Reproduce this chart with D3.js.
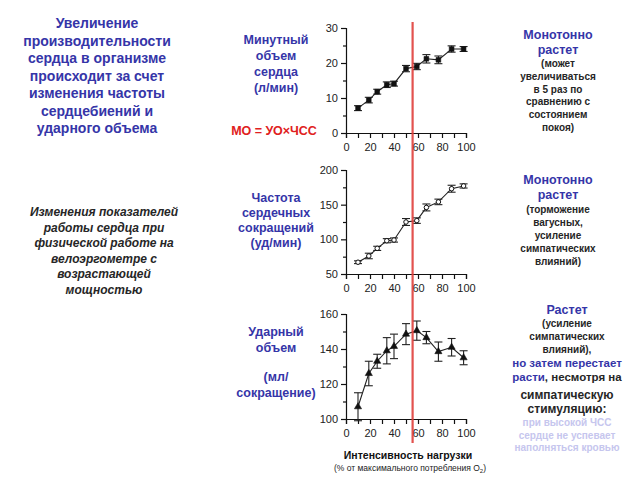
<!DOCTYPE html>
<html>
<head>
<meta charset="utf-8">
<script src="https://cdn.jsdelivr.net/npm/d3@7"></script>
<style>
  body { margin: 0; background: #fff; }
  svg { display: block; font-family: "Liberation Sans", Arial, sans-serif; }
  .axis path, .axis line { stroke: #111; stroke-width: 1.2; }
  .axis text { font-size: 11px; fill: #222; }
</style>
</head>
<body>
<svg id="chart" width="640" height="480"></svg>
<script>
// load intensity, % of max O2 uptake
const loadX = [10, 19, 26, 34, 40, 50, 59, 67, 77, 88, 98];

// minute volume, l/min
const moValues = [7.1, 9.4, 11.8, 13.8, 14.1, 18.4, 19.0, 21.2, 20.9, 24.0, 24.0];
const moErr    = [0.7, 0.8, 0.7, 0.8, 0.7, 0.9, 0.9, 1.2, 1.1, 0.9, 0.7];

// heart rate, beats/min
const hrValues = [67, 76, 87, 98, 99, 125, 127, 146, 154, 173, 177];
const hrErr    = [2, 4, 3, 3, 3, 5, 4, 5, 4, 5, 3];

// stroke volume, ml/beat
const svValues = [107, 126, 133, 139, 141.5, 148.5, 150.5, 146.5, 138.5, 141, 135];
const svErr    = [8, 7, 4, 7.5, 7, 6, 5.5, 3.5, 5.5, 5, 4];

const xTicks = [0, 10, 20, 30, 40, 50, 60, 70, 80, 90, 100];
const xLabels = [0, 20, 40, 60, 80, 100];
const moTicks = [0, 5, 10, 15, 20, 25, 30];
const hrTicks = [50, 75, 100, 125, 150, 175, 200];
const svTicks = [100, 110, 120, 130, 140, 150, 160];
const redLineX = 55.5;

const svg = d3.select('#chart');
const x = d3.scaleLinear().domain([0, 100]).range([346, 466]);

function panel(opts) {
  const { values, err, ticks, labelEvery, domain, top, bottom, marker } = opts;
  const y = d3.scaleLinear().domain(domain).range([bottom, top]);
  const g = svg.append('g');

  // x axis
  g.append('g').attr('class', 'axis')
    .attr('transform', `translate(0,${bottom})`)
    .call(d3.axisBottom(x).tickValues(xTicks).tickSizeOuter(0).tickSize(5)
      .tickFormat(d => xLabels.includes(d) ? d : ''))
    .call(a => a.selectAll('text').attr('dy', '0.9em'));

  // y axis
  g.append('g').attr('class', 'axis')
    .attr('transform', `translate(${x(0)},0)`)
    .call(d3.axisLeft(y).tickValues(ticks).tickSizeOuter(0).tickSize(5)
      .tickFormat((d, i) => i % 2 === 0 ? d : ''))
    .call(a => a.selectAll('.tick').filter((d, i) => i % 2 === 1)
      .select('line').attr('x2', -3));

  // connecting line
  g.append('path')
    .datum(values)
    .attr('fill', 'none').attr('stroke', '#222').attr('stroke-width', 1.1)
    .attr('d', d3.line().x((d, i) => x(loadX[i])).y(d => y(d)));

  // error bars
  const eb = g.selectAll('.eb').data(values).join('g')
    .attr('stroke', '#222').attr('stroke-width', 1.1);
  eb.append('line')
    .attr('x1', (d, i) => x(loadX[i])).attr('x2', (d, i) => x(loadX[i]))
    .attr('y1', (d, i) => y(d - err[i])).attr('y2', (d, i) => y(d + err[i]));
  [-1, 1].forEach(s => {
    eb.append('line')
      .attr('x1', (d, i) => x(loadX[i]) - 4).attr('x2', (d, i) => x(loadX[i]) + 4)
      .attr('y1', (d, i) => y(d + s * err[i])).attr('y2', (d, i) => y(d + s * err[i]));
  });

  // markers
  const sym = marker === 'square' ? d3.symbolSquare
    : marker === 'triangle' ? d3.symbolTriangle : d3.symbolCircle;
  const size = marker === 'circle' ? 16 : 22;
  g.selectAll('.pt').data(values).join('path')
    .attr('transform', (d, i) => `translate(${x(loadX[i])},${y(d)})`)
    .attr('d', d3.symbol(sym, size))
    .attr('fill', marker === 'circle' ? '#fff' : '#111')
    .attr('stroke', '#111').attr('stroke-width', marker === 'circle' ? 1 : 0.6);
}

panel({ values: moValues.map((v, i) => v), err: moErr, ticks: moTicks,
  domain: [0, 30], top: 28, bottom: 133, marker: 'square' });
panel({ values: hrValues, err: hrErr, ticks: hrTicks,
  domain: [50, 200], top: 170, bottom: 274, marker: 'circle' });
panel({ values: svValues, err: svErr, ticks: svTicks,
  domain: [100, 160], top: 314, bottom: 419, marker: 'triangle' });

// red reference line
svg.append('line')
  .attr('x1', x(redLineX)).attr('x2', x(redLineX))
  .attr('y1', 22).attr('y2', 443)
  .attr('stroke', '#e0403c').attr('stroke-width', 2.2).attr('opacity', 0.9);

// text helper: lines = [[text, style], ...]
function block(cx, y0, dy, lines) {
  lines.forEach((ln, i) => {
    const [txt, st] = ln;
    const t = svg.append('text')
      .attr('x', cx).attr('y', y0 + i * dy)
      .attr('text-anchor', 'middle')
      .attr('font-size', st.size || 12)
      .attr('font-weight', st.weight || 'bold')
      .attr('font-style', st.italic ? 'italic' : 'normal')
      .attr('fill', st.color || '#222');
    if (Array.isArray(txt)) {
      txt.forEach(([s, c]) => t.append('tspan').attr('fill', c).text(s));
    } else t.text(txt);
  });
}

const BLUE = '#3535a8';
const DARK = '#262626';
const PALE = '#c6c6ee';

block(97, 28, 17.5, [
  'Увеличение', 'производительности', 'сердца в организме', 'происходит за счет',
  'изменения частоты', 'сердцебиений и', 'ударного объема'
].map(s => [s, { size: 14, color: BLUE }]));

block(104, 216, 15.5, [
  'Изменения показателей', 'работы сердца при', 'физической работе на',
  'велоэргометре с', 'возрастающей', 'мощностью'
].map(s => [s, { size: 12, color: DARK, italic: true }]));

block(276, 44, 16, ['Минутный', 'объем', 'сердца', '(л/мин)']
  .map(s => [s, { size: 12.5, color: BLUE }]));
block(274, 135, 0, [['МО = УО×ЧСС', { size: 12.5, color: '#e02020' }]]);

block(276, 202, 15, ['Частота', 'сердечных', 'сокращений', '(уд/мин)']
  .map(s => [s, { size: 12.5, color: BLUE }]));

block(276, 336, 16, ['Ударный', 'объем'].map(s => [s, { size: 12.5, color: BLUE }]));
block(276, 381, 16, ['(мл/', 'сокращение)'].map(s => [s, { size: 12.5, color: BLUE }]));

block(558, 39, 14.5, [
  ['Монотонно', { size: 12.5, color: BLUE }], ['растет', { size: 12.5, color: BLUE }]
]);
block(558, 67, 12.8, ['(может', 'увеличиваться', 'в 5 раз по', 'сравнению с', 'состоянием', 'покоя)']
  .map(s => [s, { size: 10, color: DARK }]));

block(558, 184, 14.5, [
  ['Монотонно', { size: 12.5, color: BLUE }], ['растет', { size: 12.5, color: BLUE }]
]);
block(558, 213, 13, ['(торможение', 'вагусных,', 'усиление', 'симпатических', 'влияний)']
  .map(s => [s, { size: 10, color: DARK }]));

block(567, 314, 0, [['Растет', { size: 12.5, color: BLUE }]]);
block(567, 327, 13, ['(усиление', 'симпатических', 'влияний),']
  .map(s => [s, { size: 10, color: DARK }]));
block(567, 367, 14, [
  ['но затем перестает', { size: 11.5, color: BLUE }],
  [[['расти', BLUE], [', несмотря на', DARK]], { size: 11.5 }]
]);
block(567, 399, 13.5, ['симпатическую', 'стимуляцию:']
  .map(s => [s, { size: 12, color: DARK }]));
block(567, 426, 12.5, ['при высокой ЧСС', 'сердце не успевает', 'наполняться кровью']
  .map(s => [s, { size: 10, color: PALE }]));

// x axis title
block(408, 459, 0, [['Интенсивность нагрузки', { size: 10.5, color: '#111' }]]);
const sub = svg.append('text')
  .attr('x', 410).attr('y', 471).attr('text-anchor', 'middle')
  .attr('font-size', 8.5).attr('fill', '#222');
sub.append('tspan').text('(% от максимального потребления O');
sub.append('tspan').attr('font-size', 6).attr('dy', 2).text('2');
sub.append('tspan').attr('dy', -2).text(')');
</script>
</body>
</html>
